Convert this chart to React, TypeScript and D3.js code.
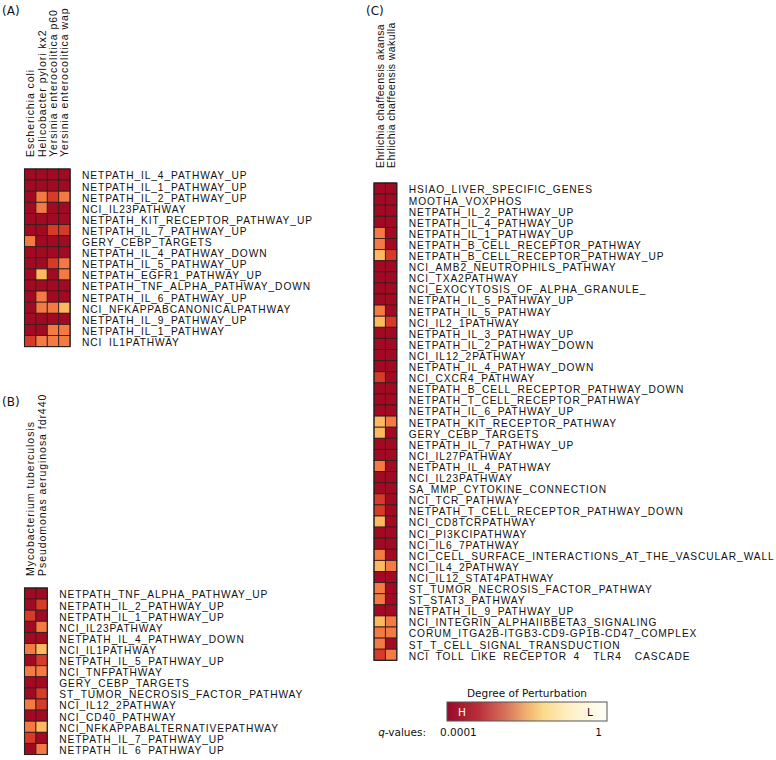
import React from "react";
import * as d3 from "d3";

// perturbation level per cell: 0 = strongest (dark red) ... 3 = weakest shown (light orange)
const colsA = ["Escherichia coli", "Helicobacter pylori kx2", "Yersinia enterocolitica p60", "Yersinia enterocolitica wap"];
const rowsA = [
  "NETPATH_IL_4_PATHWAY_UP", "NETPATH_IL_1_PATHWAY_UP", "NETPATH_IL_2_PATHWAY_UP", "NCI_IL23PATHWAY",
  "NETPATH_KIT_RECEPTOR_PATHWAY_UP", "NETPATH_IL_7_PATHWAY_UP", "GERY_CEBP_TARGETS", "NETPATH_IL_4_PATHWAY_DOWN",
  "NETPATH_IL_5_PATHWAY_UP", "NETPATH_EGFR1_PATHWAY_UP", "NETPATH_TNF_ALPHA_PATHWAY_DOWN", "NETPATH_IL_6_PATHWAY_UP",
  "NCI_NFKAPPABCANONICALPATHWAY", "NETPATH_IL_9_PATHWAY_UP", "NETPATH_IL_1_PATHWAY", "NCI_IL1PATHWAY",
];
const levelsA = [
  [0, 0, 0, 0], [0, 0, 0, 0], [0, 2, 1, 2], [0, 2, 0, 0],
  [0, 0, 0, 0], [0, 0, 1, 1], [2, 0, 0, 0], [0, 0, 0, 0],
  [0, 0, 1, 2], [0, 3, 0, 2], [0, 0, 0, 0], [0, 2, 0, 0],
  [0, 2, 2, 3], [0, 0, 0, 0], [0, 0, 2, 2], [1, 2, 2, 2],
];

const colsB = ["Mycobacterium tuberculosis", "Pseudomonas aeruginosa fdr440"];
const rowsB = [
  "NETPATH_TNF_ALPHA_PATHWAY_UP", "NETPATH_IL_2_PATHWAY_UP", "NETPATH_IL_1_PATHWAY_UP", "NCI_IL23PATHWAY",
  "NETPATH_IL_4_PATHWAY_DOWN", "NCI_IL1PATHWAY", "NETPATH_IL_5_PATHWAY_UP", "NCI_TNFPATHWAY",
  "GERY_CEBP_TARGETS", "ST_TUMOR_NECROSIS_FACTOR_PATHWAY", "NCI_IL12_2PATHWAY", "NCI_CD40_PATHWAY",
  "NCI_NFKAPPABALTERNATIVEPATHWAY", "NETPATH_IL_7_PATHWAY_UP", "NETPATH_IL_6_PATHWAY_UP",
];
const levelsB = [
  [0, 0], [0, 1], [1, 0], [0, 2], [0, 0], [2, 3], [0, 1], [2, 2],
  [0, 0], [0, 1], [2, 1], [0, 0], [2, 3], [1, 0], [0, 2],
];

const colsC = ["Ehrlichia chaffeensis akansa", "Ehrlichia chaffeensis wakulla"];
const rowsC = [
  "HSIAO_LIVER_SPECIFIC_GENES", "MOOTHA_VOXPHOS", "NETPATH_IL_2_PATHWAY_UP", "NETPATH_IL_4_PATHWAY_UP",
  "NETPATH_IL_1_PATHWAY_UP", "NETPATH_B_CELL_RECEPTOR_PATHWAY", "NETPATH_B_CELL_RECEPTOR_PATHWAY_UP",
  "NCI_AMB2_NEUTROPHILS_PATHWAY", "NCI_TXA2PATHWAY", "NCI_EXOCYTOSIS_OF_ALPHA_GRANULE_", "NETPATH_IL_5_PATHWAY_UP",
  "NETPATH_IL_5_PATHWAY", "NCI_IL2_1PATHWAY", "NETPATH_IL_3_PATHWAY_UP", "NETPATH_IL_2_PATHWAY_DOWN",
  "NCI_IL12_2PATHWAY", "NETPATH_IL_4_PATHWAY_DOWN", "NCI_CXCR4_PATHWAY", "NETPATH_B_CELL_RECEPTOR_PATHWAY_DOWN",
  "NETPATH_T_CELL_RECEPTOR_PATHWAY", "NETPATH_IL_6_PATHWAY_UP", "NETPATH_KIT_RECEPTOR_PATHWAY", "GERY_CEBP_TARGETS",
  "NETPATH_IL_7_PATHWAY_UP", "NCI_IL27PATHWAY", "NETPATH_IL_4_PATHWAY", "NCI_IL23PATHWAY",
  "SA_MMP_CYTOKINE_CONNECTION", "NCI_TCR_PATHWAY", "NETPATH_T_CELL_RECEPTOR_PATHWAY_DOWN", "NCI_CD8TCRPATHWAY",
  "NCI_PI3KCIPATHWAY", "NCI_IL6_7PATHWAY", "NCI_CELL_SURFACE_INTERACTIONS_AT_THE_VASCULAR_WALL", "NCI_IL4_2PATHWAY",
  "NCI_IL12_STAT4PATHWAY", "ST_TUMOR_NECROSIS_FACTOR_PATHWAY", "ST_STAT3_PATHWAY", "NETPATH_IL_9_PATHWAY_UP",
  "NCI_INTEGRIN_ALPHAIIBBETA3_SIGNALING", "CORUM_ITGA2B-ITGB3-CD9-GP1B-CD47_COMPLEX", "ST_T_CELL_SIGNAL_TRANSDUCTION",
  "NCI_TOLL_LIKE_RECEPTOR_4__TLR4__CASCADE",
];
const levelsC = [
  [0, 0], [0, 0], [0, 0], [0, 0], [2, 0], [2, 0], [3, 1], [0, 0], [0, 0], [0, 0], [0, 0],
  [2, 0], [3, 1], [0, 0], [0, 0], [0, 0], [0, 0], [1, 0], [0, 0], [0, 0], [0, 0], [3, 2],
  [3, 0], [0, 0], [0, 0], [2, 0], [0, 0], [0, 0], [1, 0], [1, 0], [3, 0], [0, 0], [0, 0],
  [2, 0], [3, 2], [0, 0], [2, 0], [2, 0], [0, 0], [3, 2], [2, 2], [2, 0], [1, 2],
];

const levelColors = ["#a20a23", "#d63a29", "#f47a44", "#fcb960"];
const legendStops = [
  { offset: 0, color: "#970a29" },
  { offset: 0.2, color: "#b9303a" },
  { offset: 0.38, color: "#d9785d" },
  { offset: 0.5, color: "#f0b26f" },
  { offset: 0.6, color: "#fcd98a" },
  { offset: 0.76, color: "#fef0c4" },
  { offset: 1, color: "#fffff8" },
];
const qTicks = ["0.0001", "1"];

const ROW_H = 11.1;
const CELL_W = 11.4;
const rowFont = "'Liberation Sans', Arial, sans-serif";

type HeatProps = {
  id: string;
  x0: number;
  y0: number;
  labelGap: number;
  colSpacing: number;
  cols: string[];
  rows: string[];
  levels: number[][];
};

function Heatmap({ id, x0, y0, labelGap, colSpacing, cols, rows, levels }: HeatProps) {
  const x = d3.scaleBand().domain(cols).range([x0, x0 + cols.length * CELL_W]);
  const y = d3.scaleBand().domain(rows.map((r, i) => i + "")).range([y0, y0 + rows.length * ROW_H]);
  const color = d3.scaleOrdinal<number, string>().domain([0, 1, 2, 3]).range(levelColors);
  const right = x0 + cols.length * CELL_W;
  const bottom = y0 + rows.length * ROW_H;
  return (
    <g>
      <clipPath id={id}>
        <rect x={right} y={y0 - 14} width={420} height={bottom - y0 + 14.4} />
      </clipPath>
      {cols.map((c) => (
        <text
          key={c}
          transform={`translate(${x(c)! + CELL_W / 2 + 4},${y0 - labelGap}) rotate(-90)`}
          fontFamily={rowFont}
          fontSize={10.5}
          letterSpacing={colSpacing}
          fill="#111"
        >
          {c}
        </text>
      ))}
      {levels.map((row, i) =>
        row.map((v, j) => (
          <rect
            key={i + "-" + j}
            x={x(cols[j])}
            y={y(i + "")}
            width={x.bandwidth()}
            height={y.bandwidth()}
            fill={color(v)}
            stroke="#3a1c1c"
            strokeWidth={0.9}
          />
        ))
      )}
      <rect x={x0} y={y0} width={right - x0} height={bottom - y0} fill="none" stroke="#222" strokeWidth={1.1} />
      <g clipPath={`url(#${id})`}>
        {rows.map((r, i) => (
          <text
            key={i}
            x={right + 12}
            y={y(i + "")! + 10.4}
            fontFamily={rowFont}
            fontSize={10.2}
            letterSpacing={0.9}
            fill="#111"
            style={{ whiteSpace: "pre" }}
          >
            {r}
          </text>
        ))}
      </g>
    </g>
  );
}

function Legend() {
  const lx = 447;
  const lw = 160;
  const ly = 702;
  const lh = 19;
  const pos = d3.scalePoint().domain(qTicks).range([lx - 7, lx + lw - 5]);
  const font = "'DejaVu Sans', sans-serif";
  return (
    <g fontFamily={font} fill="#111">
      <defs>
        <linearGradient id="pert" x1="0" x2="1" y1="0" y2="0">
          {legendStops.map((s) => (
            <stop key={s.offset} offset={s.offset} stopColor={s.color} />
          ))}
        </linearGradient>
      </defs>
      <text x={lx + lw / 2} y={ly - 5} textAnchor="middle" fontSize={10.5}>
        Degree of  Perturbation
      </text>
      <rect x={lx} y={ly} width={lw} height={lh} fill="url(#pert)" stroke="#555" strokeWidth={1} />
      <text x={lx + 11} y={ly + 14} fontSize={10.5} fill="#fff">H</text>
      <text x={lx + lw - 20} y={ly + 14} fontSize={10.5}>L</text>
      <text x={426} y={ly + 34} fontSize={10.5} textAnchor="end">
        <tspan fontStyle="italic">q</tspan>-values:
      </text>
      {qTicks.map((t, i) => (
        <text key={t} x={pos(t)} y={ly + 34} fontSize={10.5} textAnchor={i === 0 ? "start" : "end"}>
          {t}
        </text>
      ))}
    </g>
  );
}

export default function App() {
  return (
    <div style={{ position: "absolute", left: 0, top: 0 }}>
      <svg width={776} height={760} style={{ display: "block", background: "#fff" }}>
        <g fontFamily="'DejaVu Sans', sans-serif" fontSize={12} fill="#111">
          <text x={2} y={15}>(A)</text>
          <text x={2} y={406}>(B)</text>
          <text x={366} y={15}>(C)</text>
        </g>
        <Heatmap id="clipA" x0={24.5} y0={169} labelGap={12} colSpacing={0.95} cols={colsA} rows={rowsA} levels={levelsA} />
        <Heatmap id="clipB" x0={24.5} y0={588} labelGap={12} colSpacing={0.95} cols={colsB} rows={rowsB} levels={levelsB} />
        <Heatmap id="clipC" x0={374} y0={183} labelGap={15} colSpacing={0.4} cols={colsC} rows={rowsC} levels={levelsC} />
        <Legend />
      </svg>
    </div>
  );
}
